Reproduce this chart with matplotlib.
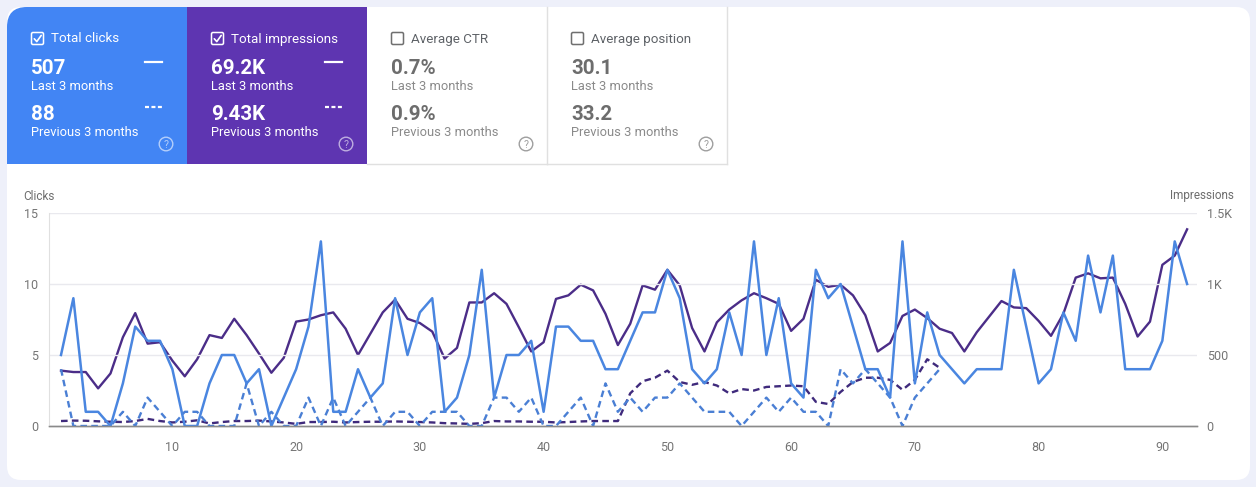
import matplotlib
matplotlib.use("Agg")
import matplotlib.pyplot as plt
from matplotlib.patches import FancyBboxPatch, Rectangle, Circle
from matplotlib.ticker import FuncFormatter

plt.rcParams['font.family'] = ['Roboto', 'DejaVu Sans']

days = list(range(1, 93))
prev_days = list(range(1, 73))

clicks_last = [5, 9, 1, 1, 0, 3, 7, 6, 6, 4, 0, 0, 3, 5, 5, 3, 4, 0, 2, 4, 7, 13, 1,
               1, 4, 2, 3, 9, 5, 8, 9, 1, 2, 5, 11, 2, 5, 5, 6, 1, 7, 7, 6, 6, 4, 4, 6,
               8, 8, 11, 9, 4, 3, 4, 8, 5, 13, 5, 9, 3, 2, 11, 9, 10, 7, 4, 4, 2, 13, 3, 8, 5,
               4, 3, 4, 4, 4, 11, 7, 3, 4, 8, 6, 12, 8, 12, 4, 4, 4, 6, 13, 10]
impr_last = [390, 380, 380, 265, 370, 625, 795, 580, 590, 460, 350, 470, 640, 620, 755, 640,
             510, 375, 480, 735, 750, 780, 800,
             685, 500, 650, 800, 890, 755, 725, 665, 475, 550, 870, 870, 935, 860, 695, 525,
             590, 895, 920, 995, 955, 790, 570, 720,
             990, 960, 1100, 990, 690, 525, 730, 820, 885, 935, 900, 860, 670, 755, 1030, 980,
             995, 920, 780, 525, 585, 775, 820, 760, 685,
             655, 525, 660, 770, 880, 835, 830, 740, 635, 790, 1045, 1075, 1040, 1045, 860,
             630, 735, 1135, 1200, 1385]
clicks_prev = [4, 0, 0, 0, 0, 1, 0, 2, 1, 0, 1, 1, 0, 0, 0, 3, 0, 1, 0, 0, 2, 0, 2,
               0, 1, 2, 0, 1, 1, 0, 1, 1, 1, 0, 0, 2, 2, 1, 2, 0, 0, 1, 2, 0, 3, 1, 2, 1,
               2, 2, 3, 2, 1, 1, 1, 0, 1, 2, 1, 2, 1, 1, 0, 4, 3, 4, 3, 2, 0, 2, 3, 4]
impr_prev = [35, 38, 37, 33, 30, 28, 35, 50, 35, 25, 30, 40, 18, 28, 35, 35, 38, 32, 25, 15,
             28, 28, 30,
             25, 28, 30, 30, 32, 30, 28, 25, 20, 18, 15, 20, 35, 32, 32, 30, 30, 25, 28, 32,
             35, 35, 35,
             230, 315, 340, 390, 310, 290, 310, 285, 230, 260, 250, 275, 280, 285, 280, 170,
             155, 240, 310, 340, 340, 325, 255, 325, 470, 410]

card_titles = ["Total clicks", "Total impressions", "Average CTR", "Average position"]
card_last = ["507", "69.2K", "0.7%", "30.1"]
card_prev = ["88", "9.43K", "0.9%", "33.2"]

BLUE = "#4285f4"
PURPLE = "#5e35b1"
CLICK_LINE = "#4a86e0"
IMPR_LINE = "#4b2d88"

W, H = 1256, 487
fig = plt.figure(figsize=(W / 100, H / 100), dpi=100)
fig.patch.set_facecolor("#eef0fa")

bg = fig.add_axes([0, 0, 1, 1], zorder=0)
bg.set_xlim(0, W)
bg.set_ylim(H, 0)
bg.axis("off")

# white card
bg.add_patch(FancyBboxPatch((7, 7), 1243, 473, boxstyle="round,pad=0,rounding_size=14",
                            fc="white", ec="none"))

# metric cards
card_x = [7, 187, 367, 547]
card_w = 180
card_h = 157
for i, x0 in enumerate(card_x):
    selected = i < 2
    if i == 0:
        bg.add_patch(FancyBboxPatch((x0, 7), card_w, card_h, boxstyle="round,pad=0,rounding_size=20",
                                    fc=BLUE, ec="none"))
        bg.add_patch(Rectangle((x0 + 20, 7), card_w - 20, card_h, fc=BLUE, ec="none"))
        bg.add_patch(Rectangle((x0, 27), card_w, card_h - 20, fc=BLUE, ec="none"))
    elif i == 1:
        bg.add_patch(Rectangle((x0, 7), card_w, card_h, fc=PURPLE, ec="none"))
    else:
        bg.plot([x0 + card_w, x0 + card_w], [7, 7 + card_h], color="#e0e0e0", lw=1)
        bg.plot([x0, x0 + card_w], [7 + card_h, 7 + card_h], color="#e0e0e0", lw=1)

    tcol = "white" if selected else "#5f6368"
    vcol = "white" if selected else "#6d6d6d"
    lcol = "white" if selected else "#8a8a8a"
    cx = x0 + 24
    # checkbox
    bg.add_patch(FancyBboxPatch((cx + 0.5, 32.5), 12, 12, boxstyle="round,pad=0,rounding_size=1.5",
                                fc="none", ec=tcol if selected else "#6f6f6f", lw=1.1))
    if selected:
        bg.plot([cx + 3.3, cx + 5.8, cx + 10.2], [38.8, 41.6, 35.4], color="white", lw=1.2,
                solid_capstyle="round")
    bg.text(cx + 20, 39, card_titles[i], color=tcol, fontsize=9.6, va="center", ha="left")
    bg.text(cx, 68, card_last[i], color=vcol, fontsize=14.8, fontweight="bold", va="center")
    bg.text(cx, 87, "Last 3 months", color=lcol, fontsize=9.3, va="center")
    bg.text(cx, 114, card_prev[i], color=vcol, fontsize=14.8, fontweight="bold", va="center")
    bg.text(cx, 133, "Previous 3 months", color=lcol, fontsize=9.3, va="center")
    if selected:
        bg.plot([x0 + 138, x0 + 155], [62, 62], color="white", lw=1.6)
        bg.plot([x0 + 138, x0 + 156], [107, 107], color="white", lw=1.6, dashes=(1.8, 1.1))
    qcol = (1, 1, 1, 0.6) if selected else "#9e9e9e"
    bg.add_patch(Circle((x0 + 159, 144), 6.8, fc="none", ec=qcol, lw=1.0))
    bg.text(x0 + 159, 144.5, "?", color=qcol, fontsize=7.5, ha="center", va="center")

# chart
ax = fig.add_axes([49 / W, 61 / H, 1148 / W, 213 / H], zorder=2)
ax.patch.set_alpha(0)
ax2 = ax.twinx()
ax2.set_zorder(1)
ax.set_zorder(2)

ax2.plot(prev_days, impr_prev, color="#3f2a7c", lw=1.7, dashes=(2.8, 1.8))
ax2.plot(days, impr_last, color=IMPR_LINE, lw=1.7)
ax.plot(prev_days, clicks_prev, color="#4a7fd4", lw=1.7, dashes=(2.8, 1.8))
ax.plot(days, clicks_last, color=CLICK_LINE, lw=1.8)

ax.set_xlim(0.03, 92.8)
ax.set_ylim(0, 15)
ax2.set_ylim(0, 1500)
ax.set_yticks([0, 5, 10, 15])
ax2.set_yticks([0, 500, 1000, 1500])
ax2.yaxis.set_major_formatter(FuncFormatter(
    lambda v, p: "0" if v == 0 else (f"{v / 1000:g}K" if v >= 1000 else f"{v:g}")))
ax.set_xticks([10, 20, 30, 40, 50, 60, 70, 80, 90])
ax.grid(axis="y", color="#e9e9ee", lw=1)
ax.set_axisbelow(True)

for a in (ax, ax2):
    for s in ("top", "right"):
        a.spines[s].set_visible(False)
    a.spines["left"].set_visible(False)
    a.spines["bottom"].set_color("#8a8a8a")
    a.spines["bottom"].set_linewidth(1)
ax.spines["left"].set_visible(True)
ax.spines["left"].set_color("#e0e0e0")

ax.tick_params(axis="y", length=0, pad=8, labelsize=9, labelcolor="#757575")
ax2.tick_params(axis="y", length=0, pad=7, labelsize=9, labelcolor="#757575")
ax.tick_params(axis="x", length=0, pad=11, labelsize=9, labelcolor="#757575")

bg.text(23, 196, "Clicks", color="#6d6d6d", fontsize=8.5, va="center", ha="left")
bg.text(1234, 196, "Impressions", color="#6d6d6d", fontsize=8.5, va="center", ha="right")

fig.savefig("out.png", dpi=100, facecolor=fig.get_facecolor())
